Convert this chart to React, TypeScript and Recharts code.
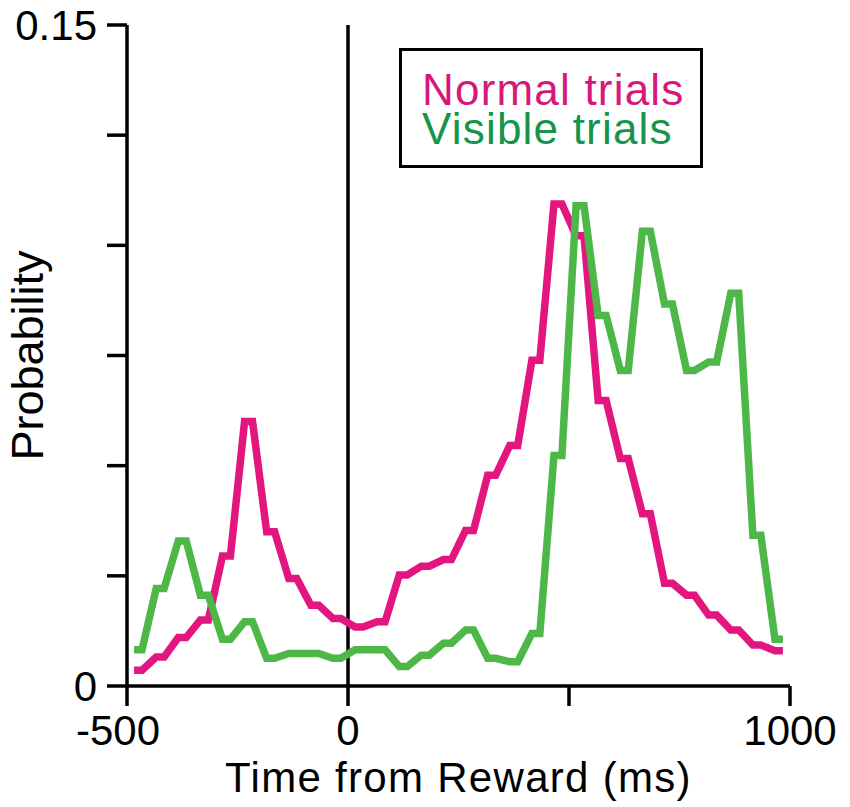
import React from 'react';
import { LineChart, Line, XAxis, YAxis, ReferenceLine, Legend } from 'recharts';

// 50 ms bins, centre of each bin (ms from reward)
const binCenters = [
  -475, -425, -375, -325, -275, -225, -175, -125, -75, -25,
  25, 75, 125, 175, 225, 275, 325, 375, 425, 475,
  525, 575, 625, 675, 725, 775, 825, 875, 925, 975,
];

const normalTrials = [
  0.0036, 0.0066, 0.011, 0.015, 0.0295, 0.06, 0.035, 0.0244, 0.0183, 0.0153,
  0.0134, 0.0146, 0.0252, 0.0272, 0.0287, 0.0353, 0.0478, 0.0546, 0.0739, 0.1094,
  0.1022, 0.0648, 0.0516, 0.0391, 0.0233, 0.0206, 0.0161, 0.0127, 0.0093, 0.008,
];

const visibleTrials = [
  0.0082, 0.0221, 0.0329, 0.0206, 0.0106, 0.0146, 0.0063, 0.0074, 0.0074, 0.0063,
  0.0082, 0.0082, 0.0044, 0.007, 0.0097, 0.0127, 0.0063, 0.0055, 0.0119, 0.0523,
  0.109, 0.0841, 0.0716, 0.1032, 0.0867, 0.0716, 0.0735, 0.0891, 0.0342, 0.0106,
];

const xTicks = [-500, 0, 500, 1000];
const xTickLabels = ['-500', '0', '', '1000'];
const yTicks = [0, 0.025, 0.05, 0.075, 0.1, 0.125, 0.15];

// each bin is drawn as a short flat top, like the original histogram trace
const HALF_FLAT = 9;
const rows = binCenters.flatMap((c, i) => [
  { t: c - HALF_FLAT, normal: normalTrials[i], visible: visibleTrials[i] },
  { t: c + HALF_FLAT, normal: normalTrials[i], visible: visibleTrials[i] },
]);

const FONT = '"Liberation Sans", Arial, sans-serif';
const legendText: Record<string, string> = { normal: '#d6187b', visible: '#16944a' };

function XTick(props: any) {
  const { x, y, payload } = props;
  const label = xTickLabels[xTicks.indexOf(payload.value)] ?? '';
  // the minus sign pushes the first label a little to the left in the original
  const dx = payload.value < 0 ? -9 : 0;
  return (
    <text x={x + dx} y={y + 31} textAnchor="middle" fill="#000" fontSize={42} fontFamily={FONT}>
      {label}
    </text>
  );
}

function LegendBox({ payload }: { payload?: Array<{ value: string; dataKey: string }> }) {
  return (
    <div
      style={{
        border: '3px solid #000',
        width: 278,
        height: 95,
        boxSizing: 'content-box',
        padding: '19px 0 0 20px',
        fontFamily: FONT,
        fontSize: 44,
        lineHeight: '39px',
        textAlign: 'left',
        background: '#fff',
      }}
    >
      {(payload ?? []).map((p) => (
        <div
          key={p.dataKey}
          style={{ color: legendText[p.dataKey], whiteSpace: 'nowrap', letterSpacing: 1.2 }}
        >
          {p.value}
        </div>
      ))}
    </div>
  );
}

export default function App() {
  return (
    <div style={{ width: 850, height: 807, background: '#fff' }}>
      <style>{'body{margin:0}'}</style>
      <LineChart
        width={850}
        height={807}
        data={rows}
        margin={{ top: 25, right: 60, bottom: 0, left: 0 }}
      >
        <XAxis
          dataKey="t"
          type="number"
          domain={[-500, 1000]}
          ticks={xTicks}
          height={121}
          tickSize={20}
          tickMargin={8}
          axisLine={{ stroke: '#000', strokeWidth: 3.5 }}
          tickLine={{ stroke: '#000', strokeWidth: 3.5 }}
          tick={<XTick />}
          label={{
            value: 'Time from Reward (ms)',
            position: 'insideBottom',
            offset: 15,
            fill: '#000',
            fontSize: 42,
            fontFamily: FONT,
            letterSpacing: 1.3,
          }}
        />
        <YAxis
          type="number"
          domain={[0, 0.15]}
          ticks={yTicks}
          tickFormatter={(v) => (v === 0 ? '0' : v === 0.15 ? '0.15' : '')}
          width={127}
          tickSize={20}
          tickMargin={10}
          axisLine={{ stroke: '#000', strokeWidth: 3.5 }}
          tickLine={{ stroke: '#000', strokeWidth: 3.5 }}
          tick={{ fill: '#000', fontSize: 42, fontFamily: FONT }}
          label={{
            content: (props: any) => {
              const vb = props.viewBox || { y: 25, height: 661 };
              const cy = vb.y + vb.height / 2;
              return (
                <text
                  x={43}
                  y={cy}
                  transform={`rotate(-90, 43, ${cy})`}
                  textAnchor="middle"
                  fill="#000"
                  fontSize={45}
                  fontFamily={FONT}
                >
                  Probability
                </text>
              );
            },
          }}
        />
        <ReferenceLine x={0} stroke="#000" strokeWidth={3.5} />
        <Legend
          layout="horizontal"
          verticalAlign="middle"
          align="center"
          content={<LegendBox />}
          wrapperStyle={{ left: 399, top: 48, width: 'auto' }}
        />
        <Line
          dataKey="normal"
          name="Normal trials"
          stroke="#e3157f"
          strokeWidth={7.5}
          dot={false}
          activeDot={false}
          isAnimationActive={false}
        />
        <Line
          dataKey="visible"
          name="Visible trials"
          stroke="#4db848"
          strokeWidth={7.5}
          dot={false}
          activeDot={false}
          isAnimationActive={false}
        />
      </LineChart>
    </div>
  );
}
